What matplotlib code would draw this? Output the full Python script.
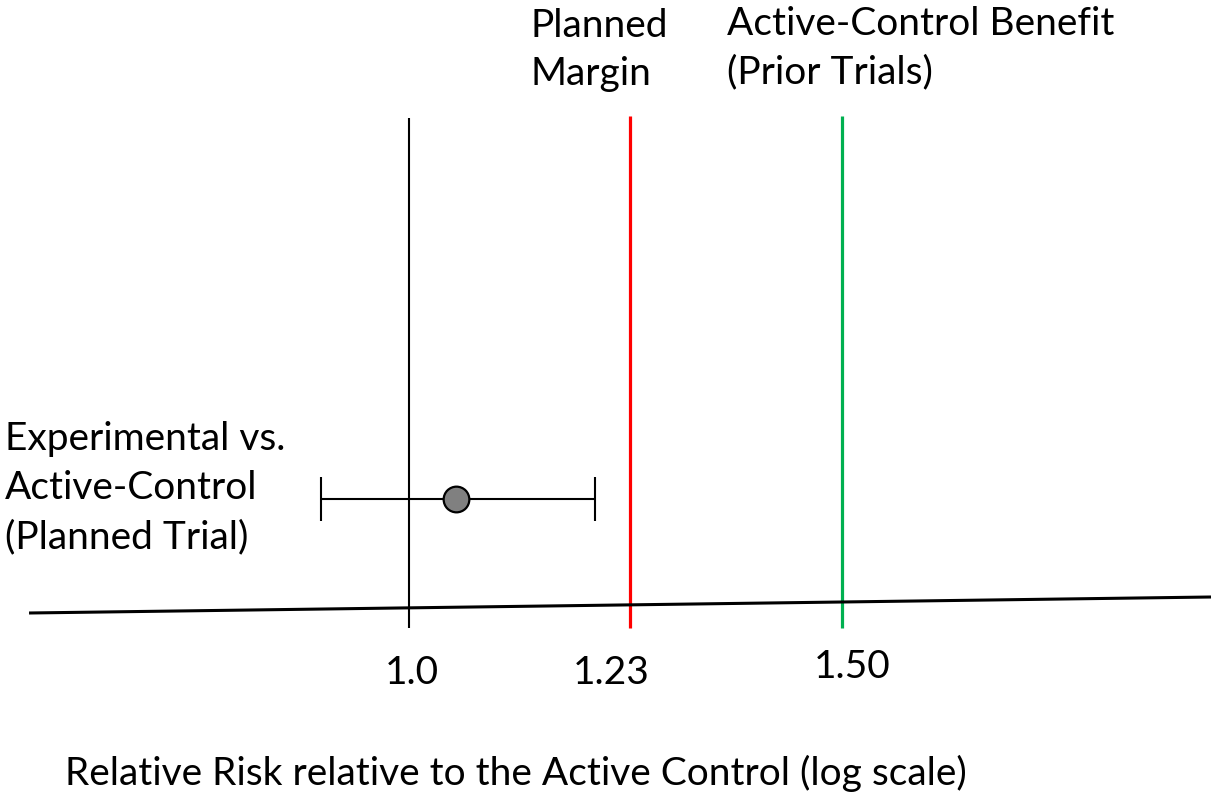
import numpy as np
import matplotlib
matplotlib.use("Agg")
import matplotlib.pyplot as plt

# reference values on the relative-risk axis
ref_values = [1.0, 1.23, 1.50]
tick_labels = ["1.0", "1.23", "1.50"]
line_colors = ["black", "#FF0000", "#00B050"]

# planned trial estimate with its interval
est_point = 1.045
est_low = 0.92
est_high = 1.19

# sloping axis line ends (relative risk)
axis_ends = [0.70, 2.12]

plt.rcParams['font.family'] = ['Lato', 'DejaVu Sans']

fig = plt.figure(figsize=(12.13, 7.92), dpi=100)
ax = fig.add_axes([0, 0, 1, 1])
ax.set_xscale('log')
ax.set_xlim(0.6812, 2.124)
ax.set_ylim(792, 0)
ax.axis('off')

# vertical reference lines
lws = [1.5, 2.3, 2.3]
tops = [118, 116, 116]
for v, c, lw, t in zip(ref_values, line_colors, lws, tops):
    ax.vlines(v, t, 628, color=c, lw=lw)

# the slightly tilted axis line
ax.plot(axis_ends, [613, 597], color='black', lw=2.2, solid_capstyle='butt')

# interval with caps and point
ax.errorbar([est_point], [499],
            xerr=[[est_point - est_low], [est_high - est_point]],
            fmt='none', ecolor='black', elinewidth=1.5, capsize=15.5, capthick=1.5)
ax.plot([est_point], [499], 'o', ms=18.5, mfc='#808080', mec='black', mew=1.6)

fs = 28
# tick labels sit a little off their lines in the original
label_shift = [(2, 0), (-14, 0), (7, 4)]
for v, lab, sh in zip(ref_values, tick_labels, label_shift):
    ax.annotate(lab, (v, 684), xytext=sh, textcoords='offset points',
                ha='center', va='baseline', fontsize=fs)


def put(x, y, s, ls=1.43):
    # x, y: left edge and baseline of the last line, in pixels from top-left
    fig.text(x / 1213, 1 - y / 792, s, ha='left', va='baseline', fontsize=fs,
             linespacing=ls, multialignment='left')


put(5, 548, "Experimental vs.\nActive-Control\n(Planned Trial)", 1.44)
put(530, 85, "Planned\nMargin", 1.40)
put(727, 83, "Active-Control Benefit\n(Prior Trials)", 1.40)
put(65, 785, "Relative Risk relative to the Active Control (log scale)")

fig.savefig('out.png', dpi=100)
